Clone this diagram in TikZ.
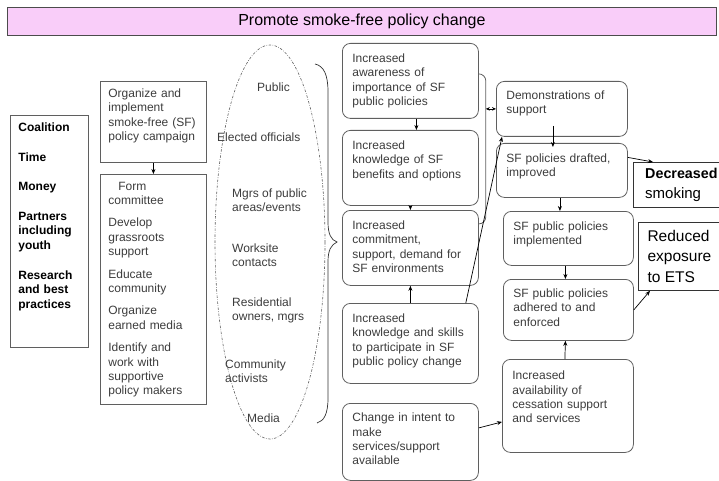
\documentclass[tikz,border=0pt]{standalone}
\usepackage{fontspec}
\setmainfont{Liberation Sans}
\usetikzlibrary{arrows.meta}
\definecolor{boxgrey}{RGB}{95,95,95}
\definecolor{textgrey}{RGB}{60,60,60}
\definecolor{bannerpink}{RGB}{249,205,249}
\newcommand{\toplines}[3][10.5]{\vbox to #2pt{\vskip #1pt #3\vfill}}
\begin{document}
\begin{tikzpicture}[x=1pt, y=-1pt,
    flowbox/.style={draw=boxgrey, line width=0.8pt, rounded corners=8pt, anchor=north west,
      inner xsep=10pt, inner ysep=0pt, align=left, text=textgrey, font=\fontsize{12}{14.4}\selectfont},
    plainbox/.style={draw=boxgrey, line width=0.8pt, anchor=north west, inner xsep=8pt,
      inner ysep=0pt, align=left, text=textgrey, font=\fontsize{12}{14.4}\selectfont},
    outcome/.style={draw=black!80, line width=0.8pt, anchor=north west, inner sep=0pt,
      align=left, font=\fontsize{15}{19.5}\selectfont},
    audience/.style={anchor=west, inner sep=0pt, align=left, text=textgrey,
      font=\fontsize{12}{14.4}\selectfont},
    link/.style={-{Stealth[length=5pt,width=4pt]}, line width=0.7pt},
  ]
  \useasboundingbox (0,0) rectangle (719,481);

  \node[draw=black!70, line width=0.8pt, fill=bannerpink, anchor=north west, minimum width=709pt,
    minimum height=28pt, inner sep=0pt, font=\fontsize{16}{19}\selectfont] (goal) at (7,7)
    {Promote smoke-free policy change};

  % inputs and activities
  \node[plainbox, text width=62pt, text=black, font=\fontsize{12}{14.6}\selectfont\bfseries]
    (inputs) at (10,115) {\toplines[7.5]{232}{Coalition\\[15pt]Time\\[15pt]Money\\[15pt]Partners\\including\\youth\\[15pt]Research\\and best\\practices}};
  \node[plainbox, text width=90pt] (plan) at (100,81)
    {\toplines[7.5]{81}{Organize and\\implement\\smoke-free (SF)\\policy campaign}};
  \node[plainbox, text width=90pt] (actions) at (100,174)
    {\toplines[7.5]{230}{\hspace*{10pt}Form\\committee\\[8pt]Develop\\grassroots\\support\\[8pt]Educate\\community\\[8pt]Organize\\earned media\\[8pt]Identify and\\work with\\supportive\\policy makers}};
  \draw[link] (plan) -- (actions);

  % who is reached
  \draw[boxgrey, line width=0.6pt, dash pattern=on 2.5pt off 1.5pt on 0.6pt off 1.5pt]
    (270,242) ellipse [x radius=55, y radius=197];
  \node[audience] (public) at (257,87) {Public};
  \node[audience] (elected) at (217,137) {Elected officials};
  \node[audience] (mgrs) at (232,200.5) {Mgrs of public\\areas/events};
  \node[audience] (worksite) at (232,255) {Worksite\\contacts};
  \node[audience] (owners) at (232,310.5) {Residential\\owners, mgrs};
  \node[audience] (activists) at (225,371.5) {Community\\activists};
  \node[audience] (media) at (247,418) {Media};
  \draw[black!80, line width=0.7pt] (315,64) .. controls (324,66) and (328,75) .. (328,92)
    -- (328,222) .. controls (328,234) and (331,240) .. (337,242)
    .. controls (331,245) and (328,250) .. (328,262) -- (328,398)
    .. controls (328,414) and (324,421) .. (317,423);

  % short term
  \node[flowbox, text width=116pt] (aware) at (342,43)
    {\toplines{75}{Increased\\awareness of\\importance of SF\\public policies}};
  \node[flowbox, text width=116pt] (benefits) at (342,130)
    {\toplines{75}{Increased\\knowledge of SF\\benefits and options}};
  \node[flowbox, text width=116pt] (commit) at (342,210)
    {\toplines{75}{Increased\\commitment,\\support, demand for\\SF environments}};
  \node[flowbox, text width=116pt] (skills) at (342,303)
    {\toplines{80}{Increased\\knowledge and skills\\to participate in SF\\public policy change}};
  \node[flowbox, text width=116pt] (intent) at (342,403)
    {\toplines[9.5]{77}{Change in intent to\\make\\services/support\\available}};
  \draw[link] ([xshift=6pt]aware.south) -- ([xshift=6pt]benefits.north);
  \draw[link] (benefits) -- (commit);
  \draw[link] (skills) -- (commit);

  % intermediate
  \node[flowbox, text width=111pt] (demo) at (496,81)
    {\toplines[9.5]{55}{Demonstrations of\\support}};
  \node[flowbox, text width=111pt] (drafted) at (496,143)
    {\toplines{54}{SF policies drafted,\\improved}};
  \node[flowbox, text width=110pt] (implemented) at (503,211)
    {\toplines{54}{SF public policies\\implemented}};
  \node[flowbox, text width=110pt] (adhered) at (503,279)
    {\toplines[9.5]{61}{SF public policies\\adhered to and\\enforced}};
  \node[flowbox, text width=111pt] (avail) at (502,359)
    {\toplines[11.5]{93}{Increased\\availability of\\cessation support\\and services}};

  \coordinate (grp) at ([xshift=7pt]aware.east |- demo.west);
  \draw[boxgrey, line width=0.8pt, rounded corners=7pt] ([yshift=7pt]aware.east) -| (grp)
    |- ([yshift=24pt]commit.east);
  \draw[{Stealth[length=4pt,width=3.5pt]}-{Stealth[length=4pt,width=3.5pt]}, line width=0.7pt]
    (grp) -- (demo.west);
  \draw[link] ([xshift=-13pt]skills.north east) -- ([xshift=6pt]demo.south west);
  \draw[link] ([xshift=-9pt,yshift=11pt]demo.south) -- ([xshift=-9pt,yshift=-4pt]drafted.north);
  \draw[link] ([xshift=-2pt]drafted.south) -- ([xshift=-2pt]drafted.south |- implemented.north);
  \draw[link] ([xshift=-3pt]implemented.south) -- ([xshift=-3pt]adhered.north);
  \draw[link] ([xshift=-3pt]avail.north) -- ([xshift=-3pt]adhered.south);
  \draw[link] ([yshift=14pt]intent.east) -- ([yshift=-16pt]avail.west);

  % long term
  \node[outcome, minimum width=96pt, minimum height=45pt] (smoking) at (633,162)
    {{\fontsize{14.3}{19.5}\selectfont\bfseries Decreased}\\smoking};
  \node[outcome, minimum width=82pt, minimum height=68pt, font=\fontsize{15.5}{20.5}\selectfont]
    (exposure) at (638,222) {Reduced\\exposure\\to ETS};
  \draw[link] ([yshift=13pt]drafted.east) -- ([xshift=20pt]smoking.north west);
  \draw[link] (adhered.east) -- ([xshift=12pt]exposure.south west);
\end{tikzpicture}
\end{document}
